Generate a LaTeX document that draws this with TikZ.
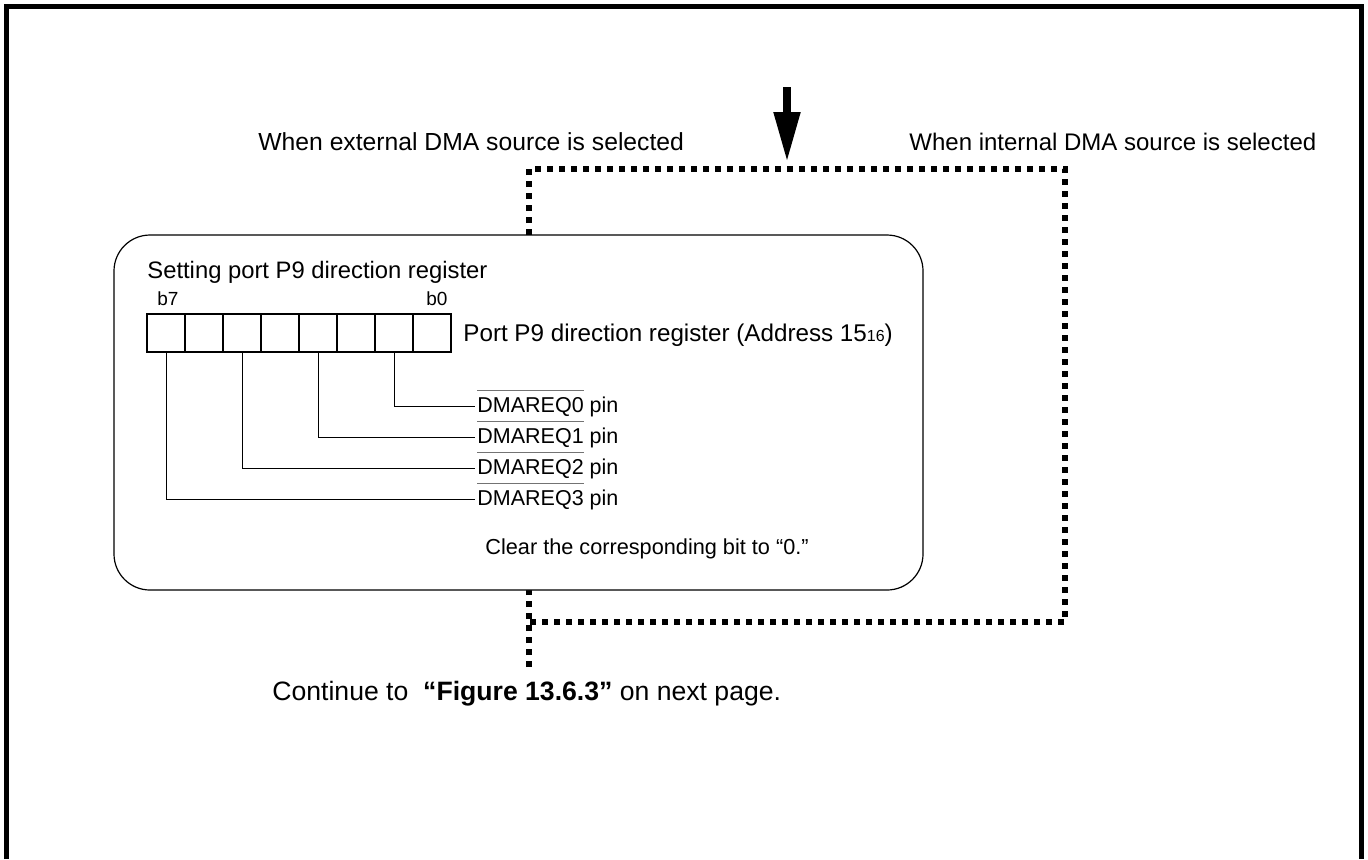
\documentclass[tikz,border=0pt]{standalone}
\usepackage{fontspec}
\setmainfont{Liberation Sans}
\usetikzlibrary{arrows.meta, positioning}
\newlength\barlen
\newcommand{\barred}[1]{\settowidth{\barlen}{#1}%
  \rlap{\textcolor{black!55}{\rule[0.97em]{\barlen}{0.5pt}}}#1}

\begin{document}
\begin{tikzpicture}[
    x=0.5pt, y=-0.5pt,
    frame/.style={line width=2.5pt},
    dotline/.style={line width=3pt, dash pattern=on 3pt off 3pt},
    bigarrow/.style={line width=4pt, -{Triangle[length=25pt, width=12.5pt]}},
    regbox/.style={draw, fill=white, rounded corners=18pt, line width=0.6pt,
                   minimum width=404.5pt, minimum height=177.5pt, inner sep=0pt},
    cell/.style={draw, line width=1pt, minimum size=19pt, inner sep=0pt},
    leader/.style={line width=0.5pt},
    txt/.style={inner sep=0pt, anchor=base west, font=\fontsize{12.35}{14}\selectfont},
    pinlbl/.style={inner sep=1pt, anchor=base west, font=\fontsize{10.75}{12}\selectfont},
    bitlbl/.style={inner sep=0pt, anchor=base west, font=\fontsize{9.5}{11}\selectfont},
]
    \useasboundingbox (0,0) rectangle (1368,859);
    \draw[frame] (6.5,859) -- (6.5,6.5) -- (1361.5,6.5) -- (1361.5,859);

    % source selection
    \coordinate (src) at (787,87);
    \coordinate (fork) at (787,162);
    \draw[bigarrow] (src) -- (fork);
    \draw[dotline] (529,667) -- (529,169) -- (1065,169) -- (1065,622) -- (529,622);

    \node[txt] (extsrc) at (258,150) {When external DMA source is selected};
    \node[txt, font=\fontsize{12}{14}\selectfont] (intsrc) at (909,150) {When internal DMA source is selected};

    % port P9 direction register
    \node[regbox] (setting) at (518.5,412.5) {};
    \node[txt, font=\fontsize{11.9}{14}\selectfont] (title) at (147,278) {Setting port P9 direction register};
    \node[bitlbl] (b7) at (157,305) {b7};
    \node[bitlbl] (b0) at (426,305) {b0};
    \foreach \i [evaluate=\i as \b using int(7-\i)] in {0,...,7}
        \node[cell] (bit\b) at (166+38*\i,333) {};
    \node[txt, font=\fontsize{12.1}{14}\selectfont] (regname) at (463,341)
        {Port P9 direction register (Address 15{\fontsize{8}{9}\selectfont 16})};

    \foreach \n/\y in {0/412,1/443,2/474,3/505}
        \node[pinlbl] (req\n) at (475,\y) {\barred{DMAREQ\n} pin};
    \foreach \b/\n in {1/0,3/1,5/2,7/3}
        \draw[leader] (bit\b.south) |- (req\n.mid west);

    \node[txt, font=\fontsize{10.85}{12}\selectfont] (clear) at (485,554) {Clear the corresponding bit to “0.”};

    \node[txt, font=\fontsize{13.3}{15}\selectfont] (cont) at (272,700)
        {Continue to \ \textbf{“Figure 13.6.3”} on next page.};
\end{tikzpicture}
\end{document}
